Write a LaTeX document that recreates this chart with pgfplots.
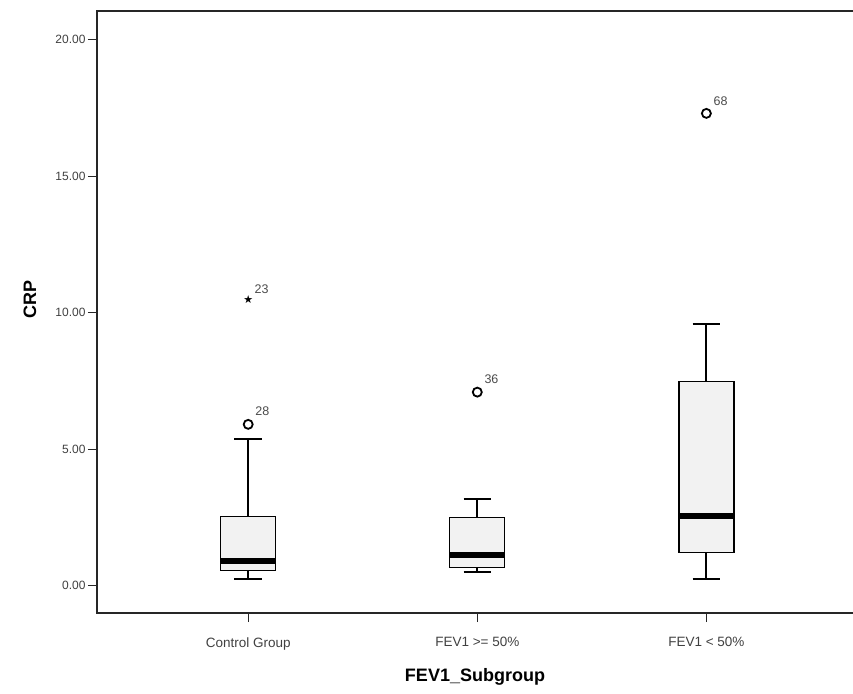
\documentclass[border=0pt]{standalone}
\usepackage{fontspec}
\setmainfont{Liberation Sans}
\newfontfamily\dejavu{DejaVu Sans}
\usepackage{pgfplots}
\pgfplotsset{compat=1.18}
\usepgfplotslibrary{statistics}
\begin{document}
\begin{tikzpicture}
\begin{axis}[
  name=ax,
  scale only axis, width=756pt, height=602pt,
  xmin=-0.66, xmax=2.64, ymin=-1.0, ymax=21.05,
  axis line style={draw=none},
  clip=false,
  xtick={0,1,2},
  xticklabels={Control Group, FEV1 >= 50\%, FEV1 < 50\%},
  ytick={0,5,10,15,20},
  yticklabels={0.00,5.00,10.00,15.00,20.00},
  tick align=outside, xtick pos=left, ytick pos=left,
  major tick length=9pt,
  tick style={black!85, line width=1.2pt},
  yticklabel style={font=\fontsize{12}{14}\selectfont, text=black!75, xshift=1pt},
  xticklabel style={font=\fontsize{13.5}{16}\selectfont, text=black!75, yshift=-12pt},
  xlabel={FEV1\_Subgroup}, ylabel={CRP},
  label style={font=\fontsize{18}{21}\selectfont\bfseries},
  xlabel style={at={(axis description cs:0.5,-0.1063)}, anchor=center},
  ylabel style={at={(axis description cs:-0.0886,0.52)}, anchor=center},
  boxplot/draw direction=y,
  boxplot/box extend=0.24,
  boxplot/whisker extend=0.12,
  boxplot/every box/.style={fill=black!5, draw=black, line width=1.3pt},
  boxplot/every whisker/.style={draw=black, line width=2pt},
  boxplot/every median/.style={draw=black, line width=6pt},
]
\addplot[black, solid, boxplot prepared={draw position=0,
  lower whisker=0.23, lower quartile=0.56, median=0.92,
  upper quartile=2.54, upper whisker=5.36}] coordinates {};
\addplot[black, solid, boxplot prepared={draw position=1,
  lower whisker=0.52, lower quartile=0.67, median=1.14,
  upper quartile=2.50, upper whisker=3.16}] coordinates {};
\addplot[black, solid, boxplot prepared={draw position=2,
  lower whisker=0.26, lower quartile=1.22, median=2.54,
  upper quartile=7.49, upper whisker=9.58}] coordinates {};
% outliers (circles)
\addplot[only marks, mark=o, mark size=4.5pt, line width=1.8pt, black,
  nodes near coords, point meta=explicit symbolic,
  nodes near coords style={font=\fontsize{12.5}{14}\selectfont, text=black!70,
    anchor=south west, xshift=3pt, yshift=4pt}]
  coordinates {(0,5.91)[28] (1,7.09)[36] (2,17.3)[68]};
% extreme (star)
\addplot[only marks, mark=text, text mark={\dejavu\fontsize{11}{13}\selectfont ★}, black,
  nodes near coords, point meta=explicit symbolic,
  nodes near coords style={font=\fontsize{12.5}{14}\selectfont, text=black!70,
    anchor=south west, xshift=3pt, yshift=3pt}]
  coordinates {(0,10.47)[23]};
\end{axis}
\draw[black!85, line width=1.5pt] (ax.north east) -- (ax.north west) -- (ax.south west) -- (ax.south east);
\pgfresetboundingbox
\path ([xshift=-97pt,yshift=-80pt]ax.south west) rectangle ([yshift=11pt]ax.north east);
\end{tikzpicture}
\end{document}
